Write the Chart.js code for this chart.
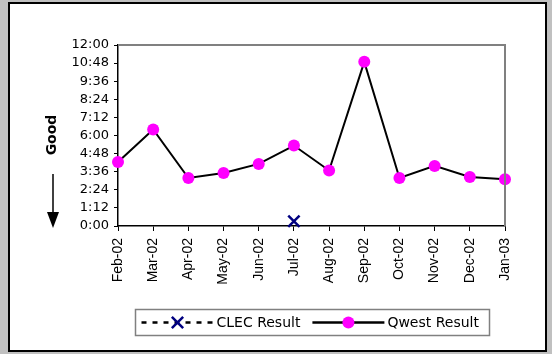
<!DOCTYPE html>
<html>
<head>
<meta charset="utf-8">
<script src="https://cdn.jsdelivr.net/npm/chart.js@4.4.1/dist/chart.umd.min.js"></script>
<style>
  html, body { margin: 0; padding: 0; background: #c0c0c0; }
  #wrap { position: relative; width: 552px; height: 354px; overflow: hidden; }
  #panel { position: absolute; left: 8px; top: 2px; width: 539px; height: 350px; box-sizing: border-box; border: 2px solid #000; background: #fff; }
  #chart { position: absolute; left: 0; top: 0; }
</style>
</head>
<body>
<div id="wrap">
  <div id="panel"></div>
  <canvas id="chart" width="552" height="354"></canvas>
</div>
<script>
// valores em minutos (h:mm no eixo)
const months = ['Feb-02', 'Mar-02', 'Apr-02', 'May-02', 'Jun-02', 'Jul-02', 'Aug-02', 'Sep-02', 'Oct-02', 'Nov-02', 'Dec-02', 'Jan-03'];
const qwestResult = [255, 384, 191, 211, 247, 320, 221, 653, 191, 239, 195, 186];
const clecResult = [null, null, null, null, null, 19, null, null, null, null, null, null];
const yMax = 720;
const yStep = 72;
const yTitle = 'Good';

const FONT = 'DejaVu Sans';
const FONT_X = 'Liberation Sans';

function fmtTime(m) {
	const h = Math.floor(m / 60);
	const mm = Math.round(m % 60);
	return h + ':' + String(mm).padStart(2, '0');
}

// borda cinza do plot + "Good" com seta
const framePlugin = {
	id: 'frame',
	afterDatasetsDraw(chart) {
		const { ctx, chartArea: a } = chart;
		ctx.save();
		ctx.strokeStyle = '#808080';
		ctx.lineWidth = 2;
		ctx.beginPath();
		ctx.moveTo(a.left, a.top);
		ctx.lineTo(a.right, a.top);
		ctx.lineTo(a.right, a.bottom);
		ctx.stroke();
		ctx.restore();
	},
	afterDraw(chart) {
		const { ctx, chartArea: a } = chart;
		const x = a.left - 66;
		ctx.save();
		ctx.fillStyle = '#000';
		ctx.font = 'bold 14px "' + FONT + '"';
		ctx.translate(x, a.top + 90);
		ctx.rotate(-Math.PI / 2);
		ctx.textAlign = 'center';
		ctx.textBaseline = 'middle';
		ctx.fillText(yTitle, 0, 0);
		ctx.restore();

		// seta
		ctx.save();
		ctx.strokeStyle = '#000';
		ctx.fillStyle = '#000';
		ctx.lineWidth = 1.5;
		ctx.beginPath();
		ctx.moveTo(x + 1, a.top + 129);
		ctx.lineTo(x + 1, a.bottom - 12);
		ctx.stroke();
		ctx.beginPath();
		ctx.moveTo(x - 5, a.bottom - 14);
		ctx.lineTo(x + 7, a.bottom - 14);
		ctx.lineTo(x + 1, a.bottom + 2);
		ctx.closePath();
		ctx.fill();
		ctx.restore();
	}
};

// legenda estilo Excel (linha + marcador)
const excelLegend = {
	id: 'excelLegend',
	afterDraw(chart) {
		const { ctx, chartArea: a } = chart;
		const ds = chart.data.datasets;
		const w = 354, h = 26;
		const cx = (a.left + a.right) / 2;
		const left = Math.round(cx - w / 2) + 0.5;
		const top = 309.5;
		const cy = top + h / 2;
		ctx.save();
		ctx.strokeStyle = '#808080';
		ctx.lineWidth = 1.5;
		ctx.strokeRect(left, top, w, h);

		ctx.font = '14px "' + FONT + '"';
		ctx.textBaseline = 'middle';
		ctx.textAlign = 'left';
		let x = left + 6;
		ds.forEach(d => {
			const lineLen = 72;
			ctx.save();
			ctx.strokeStyle = '#000';
			ctx.lineWidth = 2.5;
			ctx.setLineDash(d.legendDash || []);
			ctx.beginPath();
			ctx.moveTo(x, cy);
			ctx.lineTo(x + lineLen, cy);
			ctx.stroke();
			ctx.restore();
			ctx.save();
			ctx.fillStyle = d.pointBackgroundColor;
			ctx.strokeStyle = d.pointBorderColor;
			ctx.lineWidth = d.pointBorderWidth;
			Chart.helpers.drawPoint(ctx, {
				pointStyle: d.pointStyle,
				radius: d.pointRadius,
				borderWidth: d.pointBorderWidth
			}, x + lineLen / 2, cy);
			ctx.restore();
			ctx.fillStyle = '#000';
			ctx.fillText(d.label, x + lineLen + 3, cy + 1);
			x += lineLen + 3 + ctx.measureText(d.label).width + 12;
		});
		ctx.restore();
	}
};

new Chart(document.getElementById('chart'), {
	type: 'line',
	data: {
		labels: months,
		datasets: [
			{
				label: 'CLEC Result', data: clecResult,
				borderColor: '#000', borderWidth: 2, borderDash: [5, 5], legendDash: [5, 6],
				pointStyle: 'crossRot', pointRadius: 8, pointBorderWidth: 2.5,
				pointBorderColor: '#000080', pointBackgroundColor: '#000080',
				clip: false
			},
			{
				label: 'Qwest Result', data: qwestResult,
				borderColor: '#000', borderWidth: 2, tension: 0,
				pointStyle: 'circle', pointRadius: 6, pointBorderWidth: 0,
				pointBorderColor: '#ff00ff', pointBackgroundColor: '#ff00ff',
				clip: false
			}
		]
	},
	options: {
		responsive: false,
		animation: false,
		layout: { padding: { top: 45, right: 47, left: 0, bottom: 0 } },
		scales: {
			x: {
				offset: false,
				grid: { drawOnChartArea: false, drawTicks: true, tickLength: 5, color: '#000' },
				border: { color: '#000', width: 1.5 },
				ticks: { minRotation: 90, maxRotation: 90, autoSkip: false, color: '#000', padding: 7, font: { family: FONT_X, size: 14 } },
				afterFit(scale) { scale.height = 128; }
			},
			y: {
				min: 0, max: yMax,
				grid: { drawOnChartArea: false, drawTicks: true, tickLength: 4, color: '#000' },
				border: { color: '#000', width: 1.5 },
				ticks: { stepSize: yStep, autoSkip: false, color: '#000', padding: 5, font: { family: FONT, size: 13 }, callback: v => fmtTime(v) },
				afterFit(scale) { scale.width = 118; }
			}
		},
		plugins: {
			legend: { display: false },
			tooltip: { enabled: false }
		}
	},
	plugins: [framePlugin, excelLegend]
});
</script>
</body>
</html>
